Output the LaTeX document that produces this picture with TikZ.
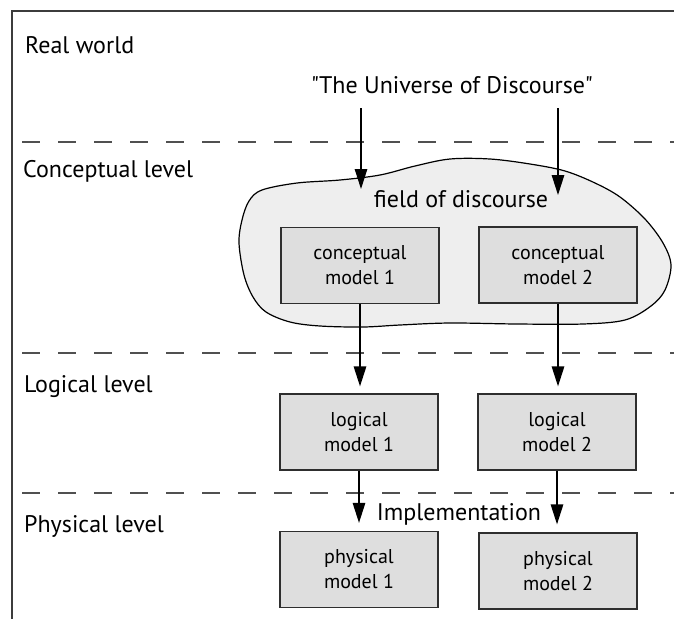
\documentclass[tikz,border=0pt]{standalone}
\usepackage{fontspec}
\setmainfont{PT Sans}[Ligatures=TeXOff]
\usetikzlibrary{arrows.meta}
\definecolor{framegray}{HTML}{3C3C3C}
\definecolor{dashgray}{HTML}{505050}
\definecolor{blobfill}{HTML}{EEEEEE}
\definecolor{boxfill}{HTML}{DEDEDE}
\definecolor{boxline}{HTML}{2E2E2E}
\begin{document}
\begin{tikzpicture}[x=1pt,y=-1pt,
  frameline/.style={draw=framegray,line width=1.6pt},
  levelsep/.style={draw=dashgray,line width=1.5pt,dash pattern=on 17.5pt off 18.5pt},
  levellabel/.style={anchor=base west,inner sep=0pt,font=\fontsize{24}{28}\selectfont},
  midlabel/.style={anchor=base,inner sep=0pt,font=\fontsize{24}{28}\selectfont},
  modelbox/.style={draw=boxline,fill=boxfill,line width=1.3pt,minimum width=158pt,
    minimum height=76pt,inner sep=0pt,align=center,
    font=\fontsize{20}{25}\selectfont},
  arr/.style={draw=black,line width=1.3pt,-{Triangle[length=20pt,width=12.5pt]}}
]
\useasboundingbox (0,0) rectangle (674,619);

% outer frame: top and left edges only
\draw[frameline] (674,11) -- (12,11) -- (12,619);

% separators between the levels
\draw[levelsep] (22,142) -- (674,142);
\draw[levelsep] (22,353) -- (674,353);
\draw[levelsep] (22,493) -- (674,493);

% level names
\node[levellabel] (realw) at (25,53) {Real world};
\node[levellabel] (concl) at (23,177) {Conceptual level};
\node[levellabel] (logl)  at (24,392) {Logical level};
\node[levellabel] (physl) at (24,532) {Physical level};

% field of discourse outline
\draw[fill=blobfill,draw=black,line width=1.2pt]
  plot[smooth cycle,tension=0.55] coordinates {
    (239,243) (242,220) (249,201) (262,190) (297,183) (340,180) (380,175)
    (415,166) (450,159) (490,159) (530,164) (565,171) (595,183) (620,197)
    (645,219) (663,243) (671,265) (665,290) (651,306) (625,320) (583,324)
    (517,324) (450,323) (400,325) (363,327) (320,326) (290,322) (266,312)
    (253,297) (244,275)};

\node[midlabel] (univ)  at (452,93) {"The Universe of Discourse"};
\node[midlabel] (field) at (461,207) {field of discourse};
\node[midlabel] (impl)  at (459,520) {Implementation};

% models
\node[modelbox] (c1) at (360,265.5) {conceptual\\model 1};
\node[modelbox] (c2) at (558,265) {conceptual\\model 2};
\node[modelbox] (l1) at (359,432) {logical\\model 1};
\node[modelbox] (l2) at (557,432) {logical\\model 2};
\node[modelbox] (p1) at (359,569.5) {physical\\model 1};
\node[modelbox] (p2) at (558,571) {physical\\model 2};

% arrow ends inside the field of discourse
\coordinate (fd1) at (361,189);
\coordinate (fd2) at (558,195);

\draw[arr] ([yshift=-15pt]univ.south -| fd1) -- (fd1);
\draw[arr] ([yshift=-15pt]univ.south -| fd2) -- (fd2);

\draw[arr,shorten >=7pt] (c1.south) -- (c1.south |- l1.north);
\draw[arr,shorten >=7pt] (c2.south) -- (c2.south |- l2.north);
\draw[arr,shorten >=8pt] (l1.south) -- (l1.south |- p1.north);
\draw[arr,shorten >=8pt] (l2.south) -- (l2.south |- p2.north);
\end{tikzpicture}
\end{document}
